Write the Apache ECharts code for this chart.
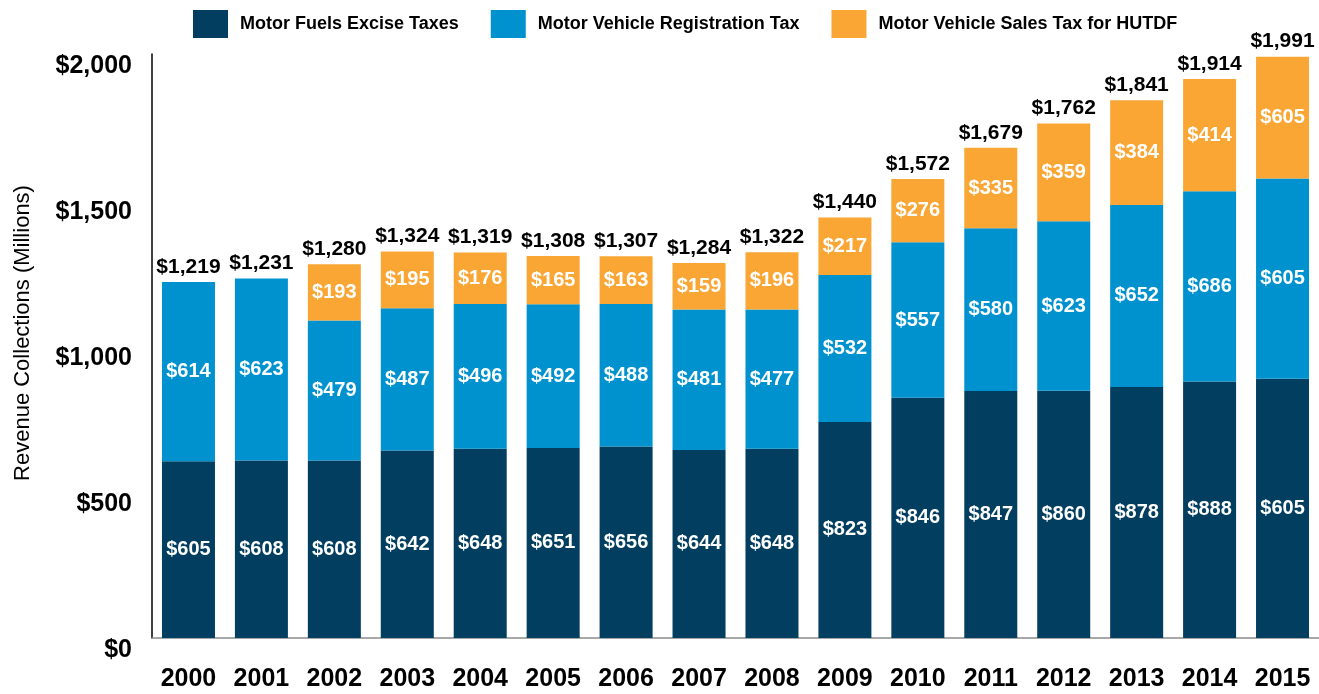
<!DOCTYPE html>
<html>
<head>
<meta charset="utf-8">
<title>Revenue Collections</title>
<script src="https://cdn.jsdelivr.net/npm/echarts@6/dist/echarts.min.js"></script>
<style>
  html, body { margin: 0; padding: 0; background: #fff; }
  #chart { width: 1319px; height: 694px; }
</style>
</head>
<body>
<div id="chart"></div>
<script>
const years = ['2000', '2001', '2002', '2003', '2004', '2005', '2006', '2007',
  '2008', '2009', '2010', '2011', '2012', '2013', '2014', '2015'];

// bar heights as drawn in the picture
const fuelValues = [605, 608, 608, 642, 648, 651, 656, 644, 648, 740, 823, 846, 847, 860, 878, 888];
const regValues = [614, 623, 479, 487, 496, 492, 488, 481, 477, 503, 532, 557, 580, 623, 652, 686];
const salesValues = [0, 0, 193, 195, 176, 165, 163, 159, 196, 197, 217, 276, 335, 359, 384, 417];

// text printed on the bars (as in the picture)
const fuelLabels = ['$605', '$608', '$608', '$642', '$648', '$651', '$656', '$644',
  '$648', '$823', '$846', '$847', '$860', '$878', '$888', '$605'];
const regLabels = ['$614', '$623', '$479', '$487', '$496', '$492', '$488', '$481',
  '$477', '$532', '$557', '$580', '$623', '$652', '$686', '$605'];
const salesLabels = ['', '', '$193', '$195', '$176', '$165', '$163', '$159',
  '$196', '$217', '$276', '$335', '$359', '$384', '$414', '$605'];
const totalLabels = ['$1,219', '$1,231', '$1,280', '$1,324', '$1,319', '$1,308', '$1,307', '$1,284',
  '$1,322', '$1,440', '$1,572', '$1,679', '$1,762', '$1,841', '$1,914', '$1,991'];

const yTicks = [0, 500, 1000, 1500, 2000];

const FONT = '"Liberation Sans", Arial, sans-serif';

const chart = echarts.init(document.getElementById('chart'));

function segLabel(texts) {
  return {
    show: true,
    position: 'inside',
    color: '#fff',
    fontFamily: FONT,
    fontWeight: 'bold',
    fontSize: 20,
    formatter: (p) => texts[p.dataIndex],
  };
}

const totals = years.map((_, i) => fuelValues[i] + regValues[i] + salesValues[i]);

const option = {
  animation: false,
  legend: {
    data: ['Motor Fuels Excise Taxes', 'Motor Vehicle Registration Tax', 'Motor Vehicle Sales Tax for HUTDF'],
    left: 193,
    top: 10,
    padding: 0,
    itemWidth: 35,
    itemHeight: 28,
    itemGap: 32,
    icon: 'rect',
    textStyle: {
      fontFamily: FONT,
      fontWeight: 'bold',
      fontSize: 18,
      color: '#000',
      padding: [0, 0, 0, 7],
    },
  },
  grid: {
    left: 152,
    top: 54,
    width: 1169,
    bottom: 56,
    containLabel: false,
  },
  xAxis: {
    type: 'category',
    data: years,
    axisTick: { show: false },
    axisLine: { lineStyle: { color: '#8c8c8c', width: 1.5 } },
    axisLabel: {
      margin: 29,
      color: '#000',
      fontFamily: FONT,
      fontWeight: 'bold',
      fontSize: 25,
    },
  },
  yAxis: {
    type: 'value',
    min: yTicks[0],
    max: yTicks[yTicks.length - 1],
    interval: 500,
    splitLine: { show: false },
    axisTick: { show: false },
    axisLine: { show: true, lineStyle: { color: '#000', width: 1.5 } },
    axisLabel: {
      margin: 20,
      color: '#000',
      fontFamily: FONT,
      fontWeight: 'bold',
      fontSize: 25,
      verticalAlign: 'top',
      lineHeight: 24,
      formatter: (v) => '$' + v.toLocaleString('en-US'),
    },
    name: 'Revenue Collections (Millions)',
    nameLocation: 'middle',
    nameGap: 118,
    nameTextStyle: {
      fontFamily: FONT,
      fontSize: 22,
      color: '#000',
      padding: [0, 0, 0, 26],
    },
  },
  series: [
    {
      name: 'Motor Fuels Excise Taxes',
      type: 'bar',
      stack: 'rev',
      barWidth: 53,
      itemStyle: { color: '#023e5f' },
      label: segLabel(fuelLabels),
      data: fuelValues,
    },
    {
      name: 'Motor Vehicle Registration Tax',
      type: 'bar',
      stack: 'rev',
      barWidth: 53,
      itemStyle: { color: '#0092cf' },
      label: segLabel(regLabels),
      data: regValues,
    },
    {
      name: 'Motor Vehicle Sales Tax for HUTDF',
      type: 'bar',
      stack: 'rev',
      barWidth: 53,
      itemStyle: { color: '#f9a634' },
      label: segLabel(salesLabels),
      data: salesValues,
    },
    {
      name: 'Total',
      type: 'scatter',
      symbolSize: 1,
      itemStyle: { color: 'rgba(255,255,255,0)' },
      silent: true,
      label: {
        show: true,
        position: 'top',
        distance: 4,
        color: '#000',
        opacity: 1,
        textBorderWidth: 0,
        fontFamily: FONT,
        fontWeight: 'bold',
        fontSize: 21,
        formatter: (p) => totalLabels[p.dataIndex],
      },
      data: totals,
    },
  ],
};

chart.setOption(option);
</script>
</body>
</html>
